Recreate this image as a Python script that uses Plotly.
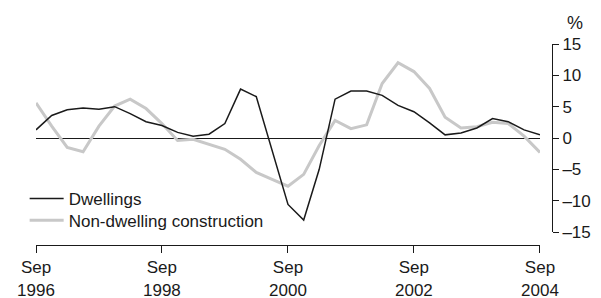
import plotly.graph_objects as go
import pandas as pd

quarters = pd.date_range("1996-09-01", periods=33, freq="3MS").strftime("%Y-%m-%d").tolist()

dwellings = [1.3, 3.6, 4.5, 4.8, 4.6, 5.0, 3.9, 2.6, 2.0, 0.9, 0.3, 0.6, 2.3, 7.8, 6.6, -2.0,
             -10.6, -13.1, -5.0, 6.2, 7.5, 7.5, 6.8, 5.2, 4.2, 2.4, 0.5, 0.8, 1.6, 3.1, 2.6, 1.3, 0.5]
non_dwelling = [5.6, 1.9, -1.5, -2.2, 1.9, 5.1, 6.2, 4.7, 2.3, -0.4, -0.2, -1.0, -1.8, -3.4, -5.5, -6.6,
                -7.7, -5.8, -1.2, 2.8, 1.5, 2.1, 8.7, 12.0, 10.6, 7.9, 3.3, 1.6, 1.8, 2.5, 2.3, 0.3, -2.3]

x_tick_vals = ["1996-09-01", "1998-09-01", "2000-09-01", "2002-09-01", "2004-09-01"]
x_tick_text = ["Sep<br>1996", "Sep<br>1998", "Sep<br>2000", "Sep<br>2002", "Sep<br>2004"]
y_tick_vals = [-15, -10, -5, 0, 5, 10, 15]
y_tick_text = ["–15", "–10", "–5", "0", "5", "10", "15"]

FONT = "Liberation Sans"

fig = go.Figure()
fig.add_trace(go.Scatter(x=quarters, y=non_dwelling, mode="lines", name="Non-dwelling construction",
                         line=dict(color="#c8c8c8", width=3), legend="legend2"))
fig.add_trace(go.Scatter(x=quarters, y=dwellings, mode="lines", name="Dwellings",
                         line=dict(color="#1a1a1a", width=1.5), legend="legend"))

leg_common = dict(xanchor="left", yanchor="middle", bgcolor="rgba(0,0,0,0)",
                  font=dict(size=17, family=FONT, color="#1a1a1a"), itemwidth=34)

fig.update_layout(
    width=601, height=298,
    margin=dict(l=36, r=49, t=44, b=53, autoexpand=False),
    paper_bgcolor="white", plot_bgcolor="white",
    font=dict(family=FONT, size=17, color="#1a1a1a"),
    showlegend=True,
    legend=dict(x=-0.022, y=0.229, **leg_common),
    legend2=dict(x=-0.022, y=0.121, **leg_common),
    xaxis=dict(
        type="date", range=["1996-09-01", "2004-09-01"], domain=[0, 0.9767],
        tickvals=x_tick_vals, ticktext=x_tick_text,
        showline=True, linecolor="#1a1a1a", linewidth=1,
        ticks="outside", ticklen=7, tickcolor="#1a1a1a",
        showgrid=False, zeroline=False, anchor="free", position=0,
        tickfont=dict(size=17, family=FONT),
    ),
    yaxis=dict(
        range=[-15, 15], domain=[0.0647, 1], side="right", anchor="free", position=1,
        tickvals=y_tick_vals, ticktext=y_tick_text,
        showline=True, linecolor="#1a1a1a", linewidth=1,
        ticks="outside", ticklen=6, tickcolor="#1a1a1a",
        showgrid=False, zeroline=True, zerolinecolor="#1a1a1a", zerolinewidth=1,
        tickfont=dict(size=17, family=FONT),
    ),
    annotations=[dict(text="%", xref="paper", yref="paper", x=1.045, y=1.105,
                      xanchor="center", yanchor="middle", showarrow=False,
                      font=dict(size=18, family=FONT))],
)

fig.write_html("out.html", config={"displayModeBar": False},
               post_script="document.body.style.margin='0';")
